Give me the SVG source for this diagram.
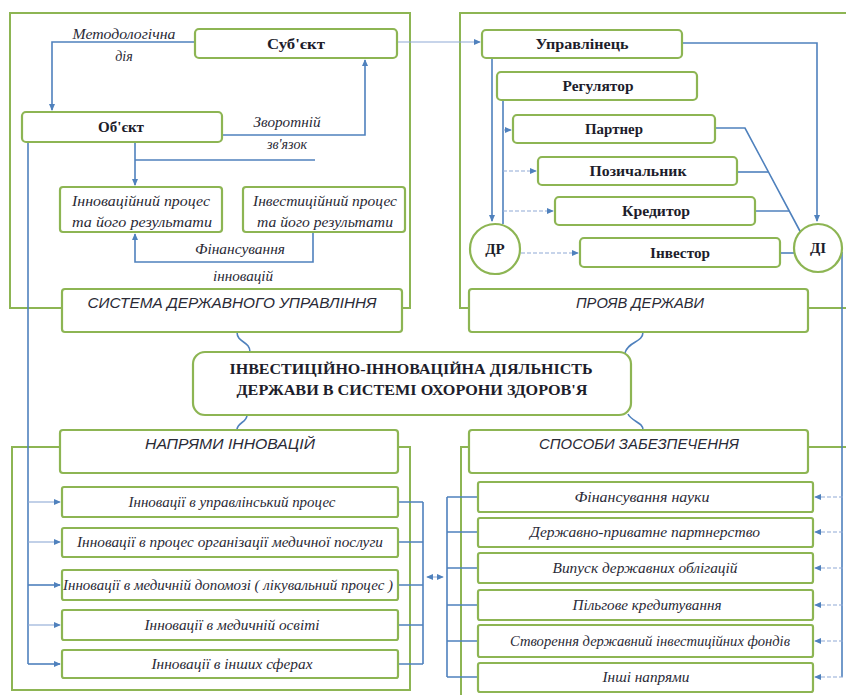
<svg xmlns="http://www.w3.org/2000/svg" width="846" height="695" viewBox="0 0 846 695">
<defs>
<marker id="arr" viewBox="0 0 8 8" refX="7" refY="4" markerWidth="7" markerHeight="7" markerUnits="userSpaceOnUse" orient="auto-start-reverse">
<path d="M0,0.5 L8,4 L0,7.5 z" fill="#4F81BD"/>
</marker>
<style>
.outer{fill:none;stroke:#8DB553;stroke-width:2}
.box{fill:#fff;stroke:#8DB553;stroke-width:2.2}
.ln{fill:none;stroke:#4F81BD;stroke-width:1.6}
.thin{fill:none;stroke:#8FAAD6;stroke-width:1.1}
.dash{fill:none;stroke:#8FAAD6;stroke-width:1.2;stroke-dasharray:4 2}
.b{font-family:"Liberation Serif",serif;font-weight:bold;font-size:15px;fill:#1d1d2b;text-anchor:middle}
.i{font-family:"Liberation Serif",serif;font-style:italic;font-size:14px;fill:#2a2a36;text-anchor:middle}
.t{font-family:"Liberation Sans",sans-serif;font-style:italic;font-size:14px;fill:#2a2a36;text-anchor:middle}
</style>
</defs>
<rect width="846" height="695" fill="#fff"/>

<g id="outer-boxes">
<rect class="outer" x="10" y="13" width="400" height="295"/>
<rect class="outer" x="460" y="13" width="400" height="295"/>
<rect class="outer" x="12" y="447" width="398" height="243"/>
<rect class="outer" x="461" y="447" width="400" height="260"/>
</g>

<g id="connectors">
<path class="ln" d="M195 42 H52 V110" marker-end="url(#arr)"/>
<path class="ln" d="M222 135 H365 V60" marker-end="url(#arr)"/>
<path class="ln" d="M135 142 V185" marker-end="url(#arr)"/>
<path class="ln" d="M135 160 H315"/>
<path class="ln" d="M313 232 V262 H135 V234" marker-end="url(#arr)"/>
<path class="thin" d="M397 42 H480" marker-end="url(#arr)"/>
<path class="ln" d="M682 43 H817 V221" marker-end="url(#arr)"/>
<path class="ln" d="M492 58 V221" marker-end="url(#arr)"/>
<path class="ln" d="M503 100 V224"/>
<path class="thin" d="M503 130 H511" marker-end="url(#arr)"/>
<path class="dash" d="M503 171 H536" marker-end="url(#arr)"/>
<path class="dash" d="M503 211 H553" marker-end="url(#arr)"/>
<path class="dash" d="M521 253 H578" marker-end="url(#arr)"/>
<path class="ln" d="M715 128 H745 L801 233"/>
<path class="ln" d="M737 172 H768"/>
<path class="ln" d="M755 211 H789"/>
<path class="ln" d="M780 253 H794"/>
<path class="ln" d="M842 252 V677"/>
<path class="dash" d="M843 497 H815" marker-end="url(#arr)"/>
<path class="dash" d="M843 532 H815" marker-end="url(#arr)"/>
<path class="dash" d="M843 568 H815" marker-end="url(#arr)"/>
<path class="dash" d="M843 605 H815" marker-end="url(#arr)"/>
<path class="dash" d="M843 641 H815" marker-end="url(#arr)"/>
<path class="dash" d="M843 677 H815" marker-end="url(#arr)"/>
<path class="ln" d="M237 332 C237 343 250 341 250 352"/>
<path class="ln" d="M643 332 C643 343 628 341 625 353"/>
<path class="ln" d="M247 415 C247 423 237 422 237 430"/>
<path class="ln" d="M628 414 C632 422 643 422 643 430"/>
<path class="ln" d="M28 142 V664"/>
<path class="thin" d="M28 502 H60" marker-end="url(#arr)"/>
<path class="thin" d="M28 542 H60" marker-end="url(#arr)"/>
<path class="ln" d="M28 585 H60" marker-end="url(#arr)"/>
<path class="thin" d="M28 625 H60" marker-end="url(#arr)"/>
<path class="ln" d="M28 664 H60" marker-end="url(#arr)"/>
<path class="ln" d="M398 502 H423 M398 542 H423 M398 585 H423 M398 625 H423 M398 664 H423 M423 502 V664"/>
<path class="dash" d="M427 577 H443" marker-start="url(#arr)" marker-end="url(#arr)"/>
<path class="ln" d="M447 497 V677 M447 497 H478 M447 532 H478 M447 568 H478 M447 605 H478 M447 641 H478 M447 677 H478"/>
</g>

<g id="labels">
<text class="i" x="124" y="39" textLength="103" lengthAdjust="spacingAndGlyphs">Методологічна</text>
<text class="i" x="124" y="61">дія</text>
<text class="i" x="287" y="127" textLength="67" lengthAdjust="spacingAndGlyphs">Зворотній</text>
<text class="i" x="287" y="149">зв'язок</text>
<text class="i" x="240" y="254" textLength="90" lengthAdjust="spacingAndGlyphs">Фінансування</text>
<text class="i" x="243" y="281" textLength="60" lengthAdjust="spacingAndGlyphs">інновацій</text>
</g>

<g id="subject"><rect class="box" x="195" y="29" width="202" height="29" rx="4"/><text class="b" x="296" y="49" textLength="58" lengthAdjust="spacingAndGlyphs">Суб'єкт</text></g>
<g id="object"><rect class="box" x="22" y="112" width="200" height="30" rx="4"/><text class="b" x="121" y="132" textLength="46" lengthAdjust="spacingAndGlyphs">Об'єкт</text></g>
<g id="innov-process"><rect class="box" x="60" y="187" width="162" height="45" rx="3"/><text class="i" x="141" y="206" textLength="138" lengthAdjust="spacingAndGlyphs">Інноваційний процес</text><text class="i" x="142" y="227" textLength="140" lengthAdjust="spacingAndGlyphs">та його результати</text></g>
<g id="invest-process"><rect class="box" x="243" y="187" width="162" height="45" rx="3"/><text class="i" x="325" y="206" textLength="144" lengthAdjust="spacingAndGlyphs">Інвестиційний процес</text><text class="i" x="325" y="227" textLength="136" lengthAdjust="spacingAndGlyphs">та його результати</text></g>
<g id="system"><rect class="box" x="62" y="289" width="340" height="43" rx="3"/><text class="t" x="232" y="308" textLength="289" lengthAdjust="spacingAndGlyphs">СИСТЕМА ДЕРЖАВНОГО УПРАВЛІННЯ</text></g>

<g id="manager"><rect class="box" x="482" y="30" width="200" height="28" rx="4"/><text class="b" x="582" y="49" textLength="93" lengthAdjust="spacingAndGlyphs">Управлінець</text></g>
<g id="regulator"><rect class="box" x="497" y="72" width="200" height="28" rx="4"/><text class="b" x="598" y="91" textLength="71" lengthAdjust="spacingAndGlyphs">Регулятор</text></g>
<g id="partner"><rect class="box" x="513" y="115" width="202" height="28" rx="4"/><text class="b" x="614" y="134" textLength="58" lengthAdjust="spacingAndGlyphs">Партнер</text></g>
<g id="borrower"><rect class="box" x="538" y="157" width="199" height="28" rx="4"/><text class="b" x="638" y="176" textLength="97" lengthAdjust="spacingAndGlyphs">Позичальник</text></g>
<g id="creditor"><rect class="box" x="555" y="197" width="200" height="28" rx="4"/><text class="b" x="656" y="216" textLength="68" lengthAdjust="spacingAndGlyphs">Кредитор</text></g>
<g id="investor"><rect class="box" x="580" y="238" width="200" height="29" rx="4"/><text class="b" x="680" y="258" textLength="60" lengthAdjust="spacingAndGlyphs">Інвестор</text></g>
<g id="dr"><circle class="box" cx="495" cy="249" r="25"/><text class="b" x="495" y="254">ДР</text></g>
<g id="di"><circle class="box" cx="818" cy="248" r="24"/><text class="b" x="818" y="253">ДІ</text></g>
<g id="manifest"><rect class="box" x="469" y="289" width="339" height="43" rx="3"/><text class="t" x="640" y="308" textLength="128" lengthAdjust="spacingAndGlyphs">ПРОЯВ ДЕРЖАВИ</text></g>

<g id="central"><rect class="box" x="193" y="352" width="438" height="63" rx="12"/><text class="b" x="411" y="374" textLength="363" lengthAdjust="spacingAndGlyphs">ІНВЕСТИЦІЙНО-ІННОВАЦІЙНА ДІЯЛЬНІСТЬ</text><text class="b" x="412" y="395" textLength="351" lengthAdjust="spacingAndGlyphs">ДЕРЖАВИ В СИСТЕМІ ОХОРОНИ ЗДОРОВ'Я</text></g>

<g id="directions"><rect class="box" x="60" y="430" width="338" height="43" rx="3"/><text class="t" x="230" y="449" textLength="170" lengthAdjust="spacingAndGlyphs">НАПРЯМИ ІННОВАЦІЙ</text></g>
<g id="d1"><rect class="box" x="62" y="487" width="336" height="30" rx="2"/><text class="i" x="232" y="507" textLength="207" lengthAdjust="spacingAndGlyphs">Інновації в управлінський процес</text></g>
<g id="d2"><rect class="box" x="62" y="528" width="336" height="29" rx="2"/><text class="i" x="230" y="547" textLength="306" lengthAdjust="spacingAndGlyphs">Інновації в процес організації медичної послуги</text></g>
<g id="d3"><rect class="box" x="62" y="570" width="336" height="30" rx="2"/><text class="i" x="228" y="590" textLength="330" lengthAdjust="spacingAndGlyphs">Інновації в медичній допомозі ( лікувальний процес )</text></g>
<g id="d4"><rect class="box" x="62" y="610" width="336" height="30" rx="2"/><text class="i" x="232" y="630" textLength="175" lengthAdjust="spacingAndGlyphs">Інновації в медичній освіті</text></g>
<g id="d5"><rect class="box" x="62" y="650" width="336" height="28" rx="2"/><text class="i" x="232" y="669" textLength="161" lengthAdjust="spacingAndGlyphs">Інновації в інших сферах</text></g>

<g id="ways"><rect class="box" x="469" y="430" width="339" height="43" rx="3"/><text class="t" x="639" y="449" textLength="200" lengthAdjust="spacingAndGlyphs">СПОСОБИ ЗАБЕЗПЕЧЕННЯ</text></g>
<g id="w1"><rect class="box" x="478" y="482" width="335" height="30" rx="2"/><text class="i" x="642" y="502" textLength="135" lengthAdjust="spacingAndGlyphs">Фінансування науки</text></g>
<g id="w2"><rect class="box" x="478" y="518" width="335" height="29" rx="2"/><text class="i" x="645" y="537" textLength="230" lengthAdjust="spacingAndGlyphs">Державно-приватне партнерство</text></g>
<g id="w3"><rect class="box" x="478" y="553" width="335" height="30" rx="2"/><text class="i" x="645" y="573" textLength="185" lengthAdjust="spacingAndGlyphs">Випуск державних облігацій</text></g>
<g id="w4"><rect class="box" x="478" y="590" width="335" height="30" rx="2"/><text class="i" x="647" y="610" textLength="149" lengthAdjust="spacingAndGlyphs">Пільгове кредитування</text></g>
<g id="w5"><rect class="box" x="478" y="625" width="335" height="32" rx="2"/><text class="i" x="650" y="646" textLength="280" lengthAdjust="spacingAndGlyphs">Створення державний інвестиційних фондів</text></g>
<g id="w6"><rect class="box" x="478" y="663" width="335" height="29" rx="2"/><text class="i" x="646" y="682" textLength="87" lengthAdjust="spacingAndGlyphs">Інші напрями</text></g>
</svg>
